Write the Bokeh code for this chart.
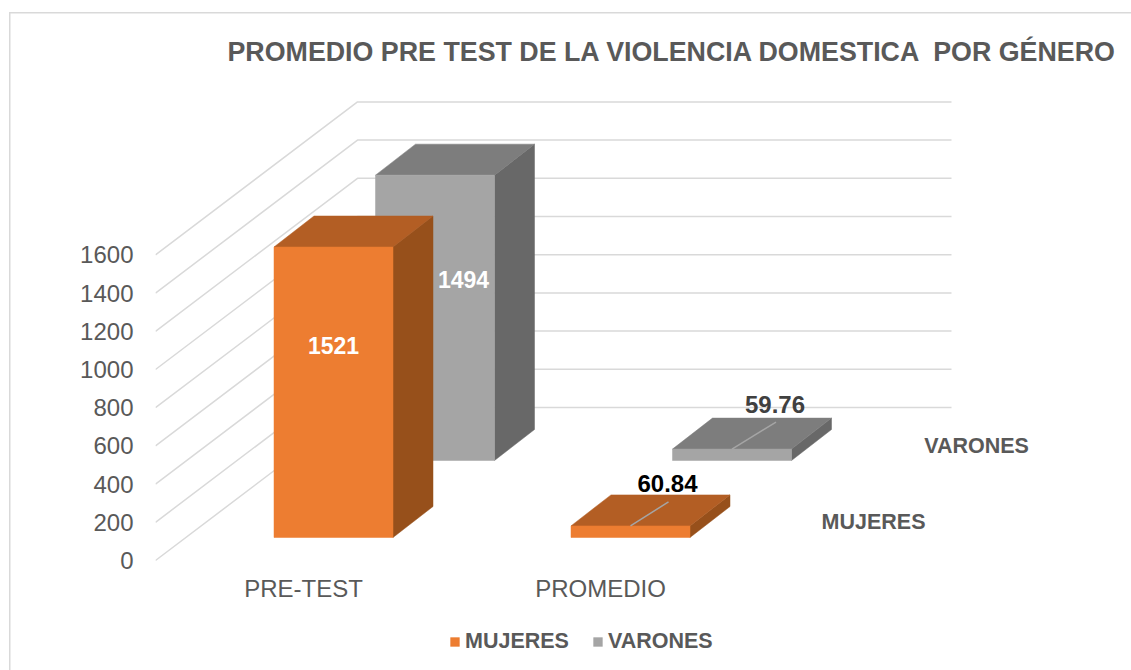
from bokeh.plotting import figure
from bokeh.models import FixedTicker, Legend, LegendItem, Title
from bokeh.embed import file_html
from bokeh.resources import INLINE
from bokeh.core.properties import value

# ---- data ----
categories = ["PRE-TEST", "PROMEDIO"]
mujeres = [1521, 60.84]
varones = [1494, 59.76]
value_ticks = [0, 200, 400, 600, 800, 1000, 1200, 1400, 1600]
title_text = "PROMEDIO PRE TEST DE LA VIOLENCIA DOMESTICA \u00a0POR GÉNERO"
FONT = "Liberation Sans"

# ---- projection of the 3D look, expressed in page pixels ----
PX_PER_VALUE = 0.191
PX_PER_CAT = 297.0
FRAME_L, FRAME_R, FRAME_T, FRAME_B = 155, 1131, 70, 670
ZERO_Y = 560
CAT0_X = 303


def hx(px):
    return px / PX_PER_CAT


def hy(px):
    return px / PX_PER_VALUE


WALL_DX, WALL_DY = hx(202), hy(153)
GRID_LEN = hx(594)
BAR_W = hx(119)
BAR_DX, BAR_DY = hx(40), hy(31)

p = figure(
    frame_width=FRAME_R - FRAME_L, frame_height=FRAME_B - FRAME_T,
    output_backend="svg", toolbar_location=None,
    x_range=(hx(FRAME_L - CAT0_X), hx(FRAME_R - CAT0_X)),
    y_range=(-hy(FRAME_B - ZERO_Y), hy(ZERO_Y - FRAME_T)),
    min_border_left=FRAME_L, min_border_right=0,
    min_border_top=FRAME_T, min_border_bottom=0,
    background_fill_color=None, border_fill_color=None, outline_line_color=None,
)
p.styles = {
    "background": (
        "linear-gradient(#d9d9d9,#d9d9d9) 9px 11.5px/100% 1.5px no-repeat,"
        "linear-gradient(#d9d9d9,#d9d9d9) 9px 11.5px/1.5px 100% no-repeat"
    )
}
p.grid.visible = False

# axes
p.yaxis.ticker = FixedTicker(ticks=value_ticks)
p.yaxis.axis_line_color = None
p.yaxis.major_tick_line_color = None
p.yaxis.minor_tick_line_color = None
p.yaxis.major_label_text_font = FONT
p.yaxis.major_label_text_font_size = "24px"
p.yaxis.major_label_text_color = "#595959"
p.yaxis.major_label_standoff = 16

p.xaxis.fixed_location = 0
p.xaxis.ticker = FixedTicker(ticks=list(range(len(categories))))
p.xaxis.major_label_overrides = {i: c for i, c in enumerate(categories)}
p.xaxis.axis_line_color = None
p.xaxis.major_tick_line_color = None
p.xaxis.minor_tick_line_color = None
p.xaxis.major_label_text_font = FONT
p.xaxis.major_label_text_font_size = "24px"
p.xaxis.major_label_text_color = "#595959"
p.xaxis.major_label_standoff = 8

# title
p.title = Title(text=title_text, text_font=FONT, text_font_size="26.8px",
                text_font_style="bold", text_color="#595959", offset=72, standoff=8)

# gridlines: wall floor-to-back and along the back wall
GRID = "#d9d9d9"
xs_g, ys_g = [], []
for t in value_ticks:
    xs_g.append([hx(FRAME_L - CAT0_X), hx(FRAME_L - CAT0_X) + WALL_DX,
                 hx(FRAME_L - CAT0_X) + WALL_DX + GRID_LEN])
    ys_g.append([t, t + WALL_DY, t + WALL_DY])
p.multi_line(xs_g, ys_g, line_color=GRID, line_width=1.5)


def bar(cat, vals, x_off_px, base_px, front, top, side):
    x0 = cat + hx(x_off_px)
    x1 = x0 + BAR_W
    y0 = hy(base_px)
    y1 = y0 + vals
    p.patch([x1, x1 + BAR_DX, x1 + BAR_DX, x1],
            [y0, y0 + BAR_DY, y1 + BAR_DY, y1],
            fill_color=side, line_color=side, line_width=0.5)
    p.patch([x0, x1, x1 + BAR_DX, x0 + BAR_DX],
            [y1, y1, y1 + BAR_DY, y1 + BAR_DY],
            fill_color=top, line_color=top, line_width=0.5)
    front_r = p.patch([x0, x1, x1, x0], [y0, y0, y1, y1],
                      fill_color=front, line_color=front, line_width=0.5)
    return front_r, x0, y1


# series placement: pixels from the category tick, pixels above the zero tick
V_X = [72, 72]
V_BASE = 100
M_X = [-29.5, -29.5]
M_BASE = 23

v_renderers = []
m_renderers = []
v_geo = []
m_geo = []
for i in range(len(categories)):
    r, x0, yt = bar(i, varones[i], V_X[i], V_BASE, "#a5a5a5", "#7d7d7d", "#686868")
    v_renderers.append(r)
    v_geo.append((x0, yt))
for i in range(len(categories)):
    r, x0, yt = bar(i, mujeres[i], M_X[i], M_BASE, "#ed7d31", "#b35e24", "#97501b")
    m_renderers.append(r)
    m_geo.append((x0, yt))

# leader lines on the small bars
LEADER = "#a5a5a5"
mx, my = m_geo[1]
p.line([mx + BAR_W / 2, mx + BAR_W / 2 + hx(38)], [my, my + hy(24)], line_color=LEADER, line_width=1.5)
vx, vy = v_geo[1]
p.line([vx + BAR_W / 2, vx + BAR_W / 2 + hx(44)], [vy, vy + hy(27)], line_color=LEADER, line_width=1.5)


def label(x, y, txt, color, size="23px"):
    p.text([x], [y], text=[txt], text_font=value(FONT), text_font_style="bold",
           text_font_size=size, text_color=color, text_align="center",
           text_baseline="middle")


# value labels
mx0, my0 = m_geo[0]
label(mx0 + BAR_W / 2, hy(215), str(mujeres[0]), "#ffffff")
vx0, vy0 = v_geo[0]
label(vx0 + hx(88), hy(281), str(varones[0]), "#ffffff")
label(mx + BAR_W / 2 + hx(37), my + hy(42), f"{mujeres[1]:.2f}", "#000000", "24px")
label(vx + BAR_W / 2 + hx(43), vy + hy(45), f"{varones[1]:.2f}", "#404040", "24px")

# series-name labels
label(hx(873 - CAT0_X), hy(39), "MUJERES", "#595959", "21.5px")
label(hx(976 - CAT0_X), hy(115), "VARONES", "#595959", "21.5px")

# legend
legend = Legend(
    items=[LegendItem(label="MUJERES", renderers=[m_renderers[0]]),
           LegendItem(label="VARONES", renderers=[v_renderers[0]])],
    orientation="horizontal", location=(294, 16),
    border_line_color=None, background_fill_color=None,
    label_text_font=FONT, label_text_font_style="bold",
    label_text_font_size="21.5px", label_text_color="#595959",
    glyph_width=11, glyph_height=11, label_standoff=5, spacing=23,
    margin=0, padding=0,
)
p.add_layout(legend)

open("out.html", "w").write(file_html(p, INLINE))
